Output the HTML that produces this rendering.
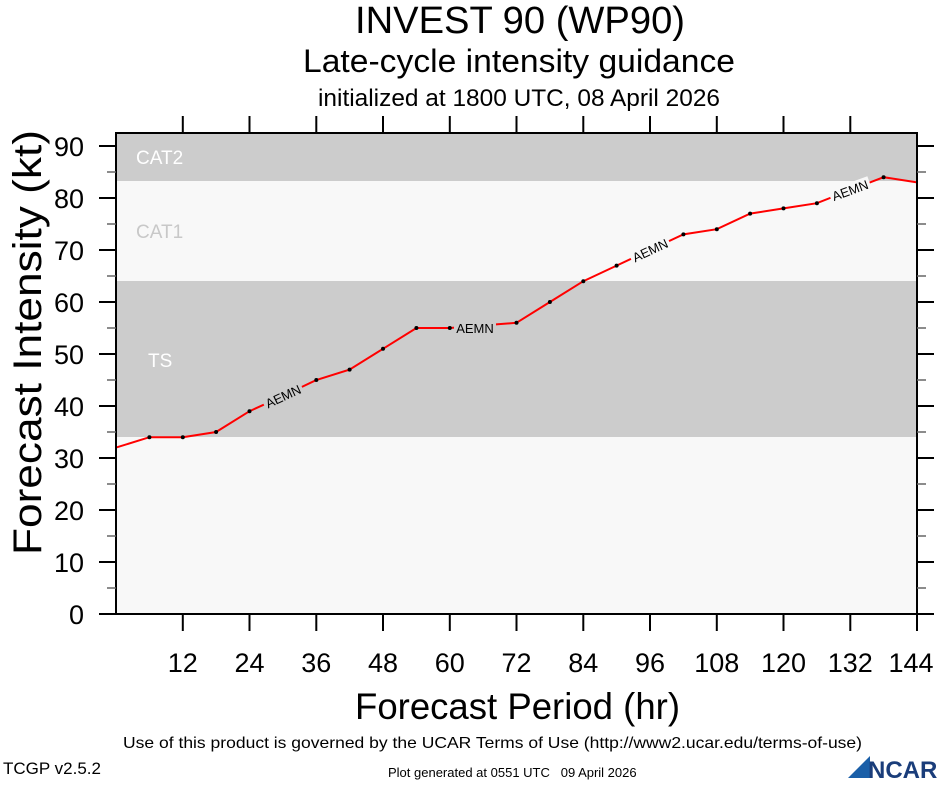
<!DOCTYPE html>
<html><head><meta charset="utf-8"><style>
html,body{margin:0;padding:0;background:#fff;}
svg text{font-family:"Liberation Sans",sans-serif;}
</style></head><body>
<svg width="940" height="780" viewBox="0 0 940 780" xmlns="http://www.w3.org/2000/svg">
<rect width="940" height="780" fill="#fff"/>
<text x="355" y="33" font-size="38" textLength="330" lengthAdjust="spacingAndGlyphs">INVEST 90 (WP90)</text>
<text x="303" y="72" font-size="32" textLength="432" lengthAdjust="spacingAndGlyphs">Late-cycle intensity guidance</text>
<text x="318" y="106" font-size="24" textLength="402" lengthAdjust="spacingAndGlyphs">initialized at 1800 UTC, 08 April 2026</text>
<rect x="116" y="133" width="801" height="481" fill="#f8f8f8"/>
<rect x="116" y="133" width="801" height="48" fill="#cccccc"/>
<rect x="116" y="281" width="801" height="156" fill="#cccccc"/>
<text x="136" y="164" font-size="19" fill="#fff">CAT2</text>
<text x="136" y="238" font-size="19" fill="#c8c8c8">CAT1</text>
<text x="148" y="367" font-size="19" fill="#fff">TS</text>
<polyline fill="none" stroke="#ff0000" stroke-width="2" points="116,447.6 149.4,437.2 182.8,437.2 216.1,432 249.5,411.2 282.9,396 316.3,380 349.6,369.6 383,348.8 416.4,328 449.8,328 483.1,325.4 516.5,322.8 549.9,302 583.3,281.2 616.6,265.6 650,250 683.4,234.4 716.8,229.2 750.1,213.6 783.5,208.4 816.9,203.2 850.3,190 883.6,177.2 917,182.4"/>
<g fill="#000">
<circle cx="149.4" cy="437.2" r="2"/><circle cx="182.8" cy="437.2" r="2"/><circle cx="216.1" cy="432" r="2"/><circle cx="249.5" cy="411.2" r="2"/><circle cx="316.3" cy="380" r="2"/><circle cx="349.6" cy="369.6" r="2"/><circle cx="383" cy="348.8" r="2"/><circle cx="416.4" cy="328" r="2"/><circle cx="449.8" cy="328" r="2"/><circle cx="516.5" cy="322.8" r="2"/><circle cx="549.9" cy="302" r="2"/><circle cx="583.3" cy="281.2" r="2"/><circle cx="616.6" cy="265.6" r="2"/><circle cx="683.4" cy="234.4" r="2"/><circle cx="716.8" cy="229.2" r="2"/><circle cx="750.1" cy="213.6" r="2"/><circle cx="783.5" cy="208.4" r="2"/><circle cx="816.9" cy="203.2" r="2"/><circle cx="883.6" cy="177.2" r="2"/>
</g>
<g font-size="13" text-anchor="middle">
<g transform="translate(283,396) rotate(-25)"><rect x="-21" y="-7" width="42" height="14" fill="#cccccc"/><text y="5">AEMN</text></g>
<g transform="translate(475,328)"><rect x="-21" y="-7" width="42" height="14" fill="#cccccc"/><text y="5">AEMN</text></g>
<g transform="translate(650,250) rotate(-25)"><rect x="-21" y="-7" width="42" height="14" fill="#f8f8f8"/><text y="5">AEMN</text></g>
<g transform="translate(850,190) rotate(-20)"><rect x="-21" y="-7" width="42" height="14" fill="#f8f8f8"/><text y="5">AEMN</text></g>
</g>
<rect x="116" y="133" width="801" height="481" fill="none" stroke="#000" stroke-width="2"/>
<g stroke="#000" stroke-width="2">
<line x1="99" y1="614" x2="116" y2="614"/><line x1="99" y1="562" x2="116" y2="562"/><line x1="99" y1="510" x2="116" y2="510"/><line x1="99" y1="458" x2="116" y2="458"/><line x1="99" y1="406" x2="116" y2="406"/><line x1="99" y1="354" x2="116" y2="354"/><line x1="99" y1="302" x2="116" y2="302"/><line x1="99" y1="250" x2="116" y2="250"/><line x1="99" y1="198" x2="116" y2="198"/><line x1="99" y1="146" x2="116" y2="146"/>
<line x1="917" y1="614" x2="934" y2="614"/><line x1="917" y1="562" x2="934" y2="562"/><line x1="917" y1="510" x2="934" y2="510"/><line x1="917" y1="458" x2="934" y2="458"/><line x1="917" y1="406" x2="934" y2="406"/><line x1="917" y1="354" x2="934" y2="354"/><line x1="917" y1="302" x2="934" y2="302"/><line x1="917" y1="250" x2="934" y2="250"/><line x1="917" y1="198" x2="934" y2="198"/><line x1="917" y1="146" x2="934" y2="146"/>
</g>
<g stroke="#666" stroke-width="1.5">
<line x1="107" y1="588" x2="116" y2="588"/><line x1="107" y1="536" x2="116" y2="536"/><line x1="107" y1="484" x2="116" y2="484"/><line x1="107" y1="432" x2="116" y2="432"/><line x1="107" y1="380" x2="116" y2="380"/><line x1="107" y1="328" x2="116" y2="328"/><line x1="107" y1="276" x2="116" y2="276"/><line x1="107" y1="224" x2="116" y2="224"/><line x1="107" y1="172" x2="116" y2="172"/>
<line x1="917" y1="588" x2="926" y2="588"/><line x1="917" y1="536" x2="926" y2="536"/><line x1="917" y1="484" x2="926" y2="484"/><line x1="917" y1="432" x2="926" y2="432"/><line x1="917" y1="380" x2="926" y2="380"/><line x1="917" y1="328" x2="926" y2="328"/><line x1="917" y1="276" x2="926" y2="276"/><line x1="917" y1="224" x2="926" y2="224"/><line x1="917" y1="172" x2="926" y2="172"/>
</g>
<g stroke="#000" stroke-width="2">
<line x1="182.8" y1="614" x2="182.8" y2="631"/><line x1="249.5" y1="614" x2="249.5" y2="631"/><line x1="316.3" y1="614" x2="316.3" y2="631"/><line x1="383" y1="614" x2="383" y2="631"/><line x1="449.8" y1="614" x2="449.8" y2="631"/><line x1="516.5" y1="614" x2="516.5" y2="631"/><line x1="583.3" y1="614" x2="583.3" y2="631"/><line x1="650" y1="614" x2="650" y2="631"/><line x1="716.8" y1="614" x2="716.8" y2="631"/><line x1="783.5" y1="614" x2="783.5" y2="631"/><line x1="850.3" y1="614" x2="850.3" y2="631"/><line x1="917" y1="614" x2="917" y2="631"/>
<line x1="182.8" y1="133" x2="182.8" y2="116"/><line x1="249.5" y1="133" x2="249.5" y2="116"/><line x1="316.3" y1="133" x2="316.3" y2="116"/><line x1="383" y1="133" x2="383" y2="116"/><line x1="449.8" y1="133" x2="449.8" y2="116"/><line x1="516.5" y1="133" x2="516.5" y2="116"/><line x1="583.3" y1="133" x2="583.3" y2="116"/><line x1="650" y1="133" x2="650" y2="116"/><line x1="716.8" y1="133" x2="716.8" y2="116"/><line x1="783.5" y1="133" x2="783.5" y2="116"/><line x1="850.3" y1="133" x2="850.3" y2="116"/>
</g>
<g font-size="27" text-anchor="end">
<text x="84" y="624">0</text><text x="84" y="572">10</text><text x="84" y="520">20</text><text x="84" y="468">30</text><text x="84" y="416">40</text><text x="84" y="364">50</text><text x="84" y="312">60</text><text x="84" y="260">70</text><text x="84" y="208">80</text><text x="84" y="156">90</text>
</g>
<g font-size="27" text-anchor="middle">
<text x="182.8" y="672">12</text><text x="249.5" y="672">24</text><text x="316.3" y="672">36</text><text x="383" y="672">48</text><text x="449.8" y="672">60</text><text x="516.5" y="672">72</text><text x="583.3" y="672">84</text><text x="650" y="672">96</text><text x="716.8" y="672">108</text><text x="783.5" y="672">120</text><text x="850.3" y="672">132</text><text x="911" y="672">144</text>
</g>
<text x="355" y="719" font-size="37" textLength="325" lengthAdjust="spacingAndGlyphs">Forecast Period (hr)</text>
<text transform="translate(41,555) rotate(-90)" font-size="40" textLength="425" lengthAdjust="spacingAndGlyphs">Forecast Intensity (kt)</text>
<text x="123" y="748" font-size="16" textLength="739" lengthAdjust="spacingAndGlyphs">Use of this product is governed by the UCAR Terms of Use (http://www2.ucar.edu/terms-of-use)</text>
<text x="3" y="774" font-size="17">TCGP v2.5.2</text>
<text x="388" y="777" font-size="13" xml:space="preserve">Plot generated at 0551 UTC   09 April 2026</text>
<path d="M848 778 L870 756 L870 778 Z" fill="#1a5fa8"/>
<text x="868" y="778" font-size="24" font-weight="bold" fill="#1a3d7a">NCAR</text>
</svg>
</body></html>
